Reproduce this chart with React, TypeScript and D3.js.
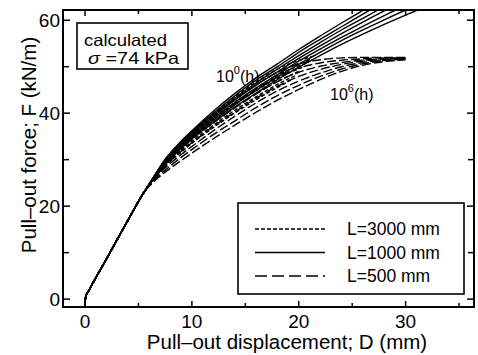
import React from "react";
import * as d3 from "d3";

// ---- data ----
const toeD = [0, 0.05, 0.4, 2, 4, 5.5];
const toeF = [-1.6, 0.4, 2.0, 8.6, 16.9, 22.9];

// L=1000 mm (solid), 10^0 .. 10^6 h
const solidD = [6.5, 7.5, 9, 10.5, 12, 14, 16, 18, 20, 22, 24, 26, 28, 30, 32];
const solid0 = [26.6, 30.1, 34.0, 37.3, 40.4, 44.2, 47.6, 50.6, 53.7, 56.6, 59.4, 62.1, 64.8, 67.5, 70.2];
const solid1 = [26.5, 29.9, 33.7, 37.0, 40.0, 43.7, 47.1, 50.0, 53.1, 55.9, 58.6, 61.3, 63.9, 66.4, 69.0];
const solid2 = [26.4, 29.7, 33.5, 36.7, 39.6, 43.2, 46.5, 49.5, 52.4, 55.2, 57.9, 60.4, 62.9, 65.4, 67.8];
const solid3 = [26.3, 29.5, 33.2, 36.4, 39.2, 42.8, 46.0, 48.9, 51.8, 54.5, 57.1, 59.6, 62.0, 64.3, 66.6];
const solid4 = [26.2, 29.3, 32.9, 36.0, 38.8, 42.3, 45.4, 48.3, 51.2, 53.8, 56.3, 58.7, 61.0, 63.2, 65.4];
const solid5 = [26.1, 29.1, 32.7, 35.7, 38.4, 41.8, 44.9, 47.8, 50.5, 53.1, 55.6, 57.9, 60.1, 62.2, 64.2];
const solid6 = [26.0, 28.9, 32.4, 35.4, 38.0, 41.3, 44.3, 47.2, 49.9, 52.4, 54.8, 57.0, 59.1, 61.1, 63.0];

// L=500 mm (long dash)
const dashD = [6.5, 7.5, 9, 10.5, 12, 14, 16, 18, 20, 22, 24, 26, 28, 30];
const dash0 = [26.5, 29.9, 33.7, 36.8, 39.6, 43.0, 46.1, 48.8, 50.6, 51.5, 51.9, 52.0, 52.0, 52.0];
const dash1 = [26.3, 29.5, 33.1, 36.0, 38.8, 42.1, 45.1, 47.8, 49.7, 50.8, 51.4, 51.7, 51.9, 51.9];
const dash2 = [26.1, 29.0, 32.4, 35.3, 37.9, 41.1, 44.1, 46.8, 48.8, 50.1, 50.9, 51.4, 51.7, 51.8];
const dash3 = [26.0, 28.6, 31.8, 34.5, 37.1, 40.2, 43.2, 45.8, 47.9, 49.4, 50.5, 51.2, 51.6, 51.8];
const dash4 = [25.8, 28.2, 31.1, 33.7, 36.2, 39.3, 42.2, 44.8, 46.9, 48.6, 50.0, 50.9, 51.4, 51.7];
const dash5 = [25.6, 27.7, 30.5, 33.0, 35.4, 38.3, 41.2, 43.8, 46.0, 47.9, 49.5, 50.6, 51.3, 51.6];
const dash6 = [25.4, 27.3, 29.8, 32.2, 34.5, 37.4, 40.2, 42.8, 45.1, 47.2, 49.0, 50.3, 51.1, 51.5];

// L=3000 mm (short dash)
const shortD = [6.5, 7.5, 9, 10.5, 12, 14, 16, 18];
const short0 = [26.5, 30.0, 33.8, 37.0, 39.9, 43.5, 46.7, 49.5];
const short1 = [26.4, 29.8, 33.4, 36.6, 39.4, 42.9, 46.1, 48.8];
const short2 = [26.3, 29.5, 33.1, 36.1, 38.9, 42.3, 45.4, 48.2];
const short3 = [26.3, 29.3, 32.7, 35.7, 38.4, 41.8, 44.8, 47.5];
const short4 = [26.2, 29.1, 32.3, 35.3, 37.9, 41.2, 44.2, 46.8];
const short5 = [26.1, 28.8, 32.0, 34.8, 37.4, 40.6, 43.5, 46.2];
const short6 = [26.0, 28.6, 31.6, 34.4, 36.9, 40.0, 42.9, 45.5];
const shortEndD = [21.6, 21.2, 20.9, 20.5, 20.1, 19.8, 19.4];
const shortEndF = [52.4, 51.6, 50.9, 50.0, 49.1, 48.2, 47.3];

const xMajor = [0, 10, 20, 30];
const xMinor = [5, 15, 25, 35];
const yMajor = [0, 20, 40, 60];
const yMinor = [10, 30, 50];
const legendLabels = ["L=3000 mm", "L=1000 mm", "L=500 mm"];

// ---- layout ----
const W = 478, H = 355;
const L = 63, R = 474, T = 10, B = 307;
const FONT = "'Liberation Sans', Arial, Helvetica, sans-serif";

const x = d3.scaleLinear().domain([-2.06, 36.4]).range([L, R]);
const y = d3.scaleLinear().domain([-1.7, 62.2]).range([B, T]);

const line = d3
  .line<[number, number]>()
  .x((d) => x(d[0]))
  .y((d) => y(d[1]))
  .curve(d3.curveMonotoneX);

const toe: [number, number][] = toeD.map((d, i) => [d, toeF[i]]);
const build = (ds: number[], fs: number[], extra: [number, number][] = []) =>
  line([...toe, ...ds.map((d, i) => [d, fs[i]] as [number, number]), ...extra]) || "";

const solids = [solid0, solid1, solid2, solid3, solid4, solid5, solid6];
const dashes = [dash0, dash1, dash2, dash3, dash4, dash5, dash6];
const shorts = [short0, short1, short2, short3, short4, short5, short6];

const SHORT_DASH = "4,2";
const LONG_DASH = "9,3";

export default function App() {
  return (
    <svg
      width={W}
      height={H}
      style={{ position: "absolute", left: 0, top: 0, background: "#fff" }}
      fontFamily={FONT}
    >
      <defs>
        <clipPath id="plot">
          <rect x={L} y={T} width={R - L} height={B - T} />
        </clipPath>
      </defs>
      <rect x={0} y={0} width={W} height={H} fill="#fff" />

      <g clipPath="url(#plot)" fill="none" stroke="#000" strokeWidth={1.4}>
        {dashes.map((fs, i) => (
          <path key={"d" + i} d={build(dashD, fs)} strokeDasharray={LONG_DASH} />
        ))}
        {shorts.map((fs, i) => (
          <path
            key={"c" + i}
            d={build(shortD, fs, [[shortEndD[i], shortEndF[i]]])}
            strokeDasharray={SHORT_DASH}
          />
        ))}
        {solids.map((fs, i) => (
          <path key={"s" + i} d={build(solidD, fs)} />
        ))}
      </g>

      {/* frame */}
      <rect x={L} y={T} width={R - L} height={B - T} fill="none" stroke="#000" strokeWidth={2} />

      {/* ticks */}
      <g stroke="#000" strokeWidth={1.5}>
        {xMajor.map((v) => (
          <g key={"xm" + v}>
            <line x1={x(v)} x2={x(v)} y1={B} y2={B - 6} />
            <line x1={x(v)} x2={x(v)} y1={T} y2={T + 6} />
          </g>
        ))}
        {xMinor.map((v) => (
          <g key={"xn" + v}>
            <line x1={x(v)} x2={x(v)} y1={B} y2={B - 4} />
            <line x1={x(v)} x2={x(v)} y1={T} y2={T + 4} />
          </g>
        ))}
        {yMajor.map((v) => (
          <g key={"ym" + v}>
            <line x1={L} x2={L + 7} y1={y(v)} y2={y(v)} />
            <line x1={R} x2={R - 7} y1={y(v)} y2={y(v)} />
          </g>
        ))}
        {yMinor.map((v) => (
          <g key={"yn" + v}>
            <line x1={L} x2={L + 6} y1={y(v)} y2={y(v)} />
            <line x1={R} x2={R - 6} y1={y(v)} y2={y(v)} />
          </g>
        ))}
      </g>

      {/* tick labels */}
      <g fontSize={19} fill="#000">
        {xMajor.map((v) => (
          <text key={"xl" + v} x={x(v)} y={328} textAnchor="middle">
            {v}
          </text>
        ))}
        {yMajor.map((v) => (
          <text key={"yl" + v} x={60} y={y(v) + 7} textAnchor="end">
            {v}
          </text>
        ))}
      </g>

      {/* axis titles */}
      <text x={287} y={349} textAnchor="middle" fontSize={20.5}>
        Pull–out displacement; D (mm)
      </text>
      <text
        transform={`translate(36,${145}) rotate(-90)`}
        textAnchor="middle"
        fontSize={20.5}
      >
        Pull–out force; F (kN/m)
      </text>

      {/* annotation box */}
      <rect x={77} y={23} width={111} height={46} fill="#fff" stroke="#000" strokeWidth={1.6} />
      <text x={84} y={45.5} fontSize={16.5} textLength={83} lengthAdjust="spacingAndGlyphs">
        calculated
      </text>
      <text x={88} y={64} fontSize={16.5} textLength={91} lengthAdjust="spacingAndGlyphs">
        <tspan fontStyle="italic">σ</tspan>
        <tspan> =74 kPa</tspan>
      </text>

      {/* curve labels */}
      <text x={216} y={82} fontSize={16}>
        10<tspan dy={-8} fontSize={11}>0</tspan>
        <tspan dy={8}>(h)</tspan>
      </text>
      <text x={330} y={100} fontSize={16}>
        10<tspan dy={-8} fontSize={11}>6</tspan>
        <tspan dy={8}>(h)</tspan>
      </text>

      {/* legend */}
      <rect x={238} y={203} width={226} height={91} fill="#fff" stroke="#000" strokeWidth={1.6} />
      {legendLabels.map((lab, i) => {
        const yy = 229 + i * 23.5;
        const dash = i === 0 ? SHORT_DASH : i === 2 ? "12,5" : undefined;
        return (
          <g key={lab}>
            <line
              x1={255}
              x2={325}
              y1={yy}
              y2={yy}
              stroke="#000"
              strokeWidth={1.6}
              strokeDasharray={dash}
            />
            <text x={347} y={yy + 6} fontSize={17.5}>
              {lab}
            </text>
          </g>
        );
      })}
    </svg>
  );
}
